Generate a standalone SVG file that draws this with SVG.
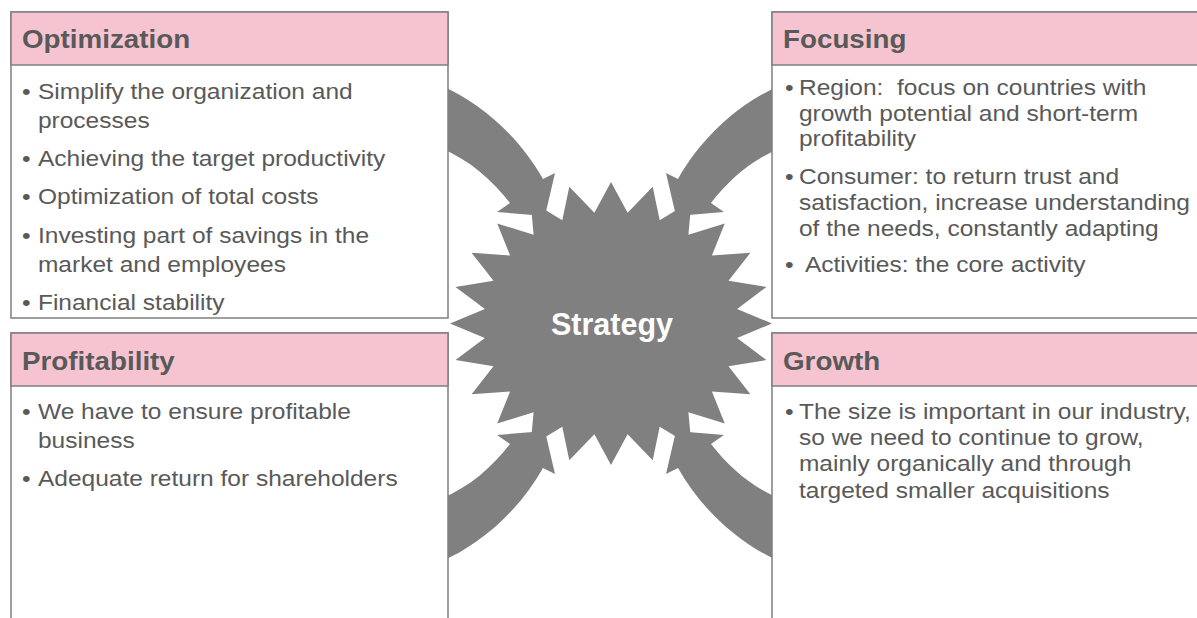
<svg xmlns="http://www.w3.org/2000/svg" width="1197" height="618" viewBox="0 0 1197 618">
<defs>
<style>
.box{fill:#ffffff;stroke:#7f7f7f;stroke-width:1.5}
.hdr{fill:#f6c4d0;stroke:#7f7f7f;stroke-width:1.5}
.ht{font-family:"Liberation Sans",Arial,sans-serif;font-weight:bold;font-size:25.5px;fill:#595959}
.bt{font-family:"Liberation Sans",Arial,sans-serif;font-size:22px;fill:#595959;white-space:pre}
.arr{fill:#808080}
.star{fill:#808080}
.st{font-family:"Liberation Sans",Arial,sans-serif;font-weight:bold;font-size:30.5px;fill:#ffffff}
</style>
<path id="arrowTL" class="arr" d="M 440,85 C 482,103 520,138 543,179 L 555,173 L 545,216 L 497,212 L 510,203 C 492,180 470,160 440,148 Z"/>
</defs>
<rect width="1197" height="618" fill="#ffffff"/>
<g id="connectors">
<use href="#arrowTL"/>
<use href="#arrowTL" transform="translate(1221,0) scale(-1,1)"/>
<use href="#arrowTL" transform="translate(0,647) scale(1,-1)"/>
<use href="#arrowTL" transform="translate(1221,647) scale(-1,-1)"/>
</g>
<g id="node-strategy">
<polygon class="star" points="611,182 627.6,212.7 652.7,186.8 659.7,220.2 691.5,201 688.4,234.8 724.8,223.4 711.9,255.4 750.4,252.8 728.5,280.7 766.5,286.9 737.1,308.9 772,323.5 737.1,338.1 766.5,360.1 728.5,366.3 750.4,394.3 711.9,391.6 724.8,423.6 688.4,412.2 691.5,446 659.7,426.8 652.7,460.2 627.6,434.3 611,465 594.4,434.3 569.3,460.2 562.3,426.8 530.5,446 533.6,412.2 497.2,423.6 510.1,391.6 471.6,394.3 493.5,366.3 455.5,360.1 484.9,338.1 450,323.5 484.9,308.9 455.5,286.9 493.5,280.7 471.6,252.8 510.1,255.4 497.2,223.4 533.6,234.8 530.5,201 562.3,220.2 569.3,186.8 594.4,212.7"/>
<text class="st" x="612" y="335" text-anchor="middle">Strategy</text>
</g>
<g id="node-optimization">
<rect class="box" x="11" y="12" width="437" height="306"/>
<rect class="hdr" x="11" y="12" width="437" height="53"/>
<text class="ht" x="0" y="48" transform="translate(22,0) scale(1.09,1)">Optimization</text>
<g transform="translate(22,0) scale(1.115,1)">
<text class="bt" x="0" y="99">•</text><text class="bt" x="14.3" y="99">Simplify the organization and</text>
<text class="bt" x="14.3" y="128">processes</text>
<text class="bt" x="0" y="166.5">•</text><text class="bt" x="14.3" y="166.5">Achieving the target productivity</text>
<text class="bt" x="0" y="204.5">•</text><text class="bt" x="14.3" y="204.5">Optimization of total costs</text>
<text class="bt" x="0" y="243">•</text><text class="bt" x="14.3" y="243">Investing part of savings in the</text>
<text class="bt" x="14.3" y="272">market and employees</text>
<text class="bt" x="0" y="310">•</text><text class="bt" x="14.3" y="310">Financial stability</text>
</g>
</g>
<g id="node-focusing">
<rect class="box" x="772" y="12" width="440" height="306"/>
<rect class="hdr" x="772" y="12" width="440" height="53"/>
<text class="ht" x="0" y="48" transform="translate(783,0) scale(1.09,1)">Focusing</text>
<g transform="translate(785,0) scale(1.115,1)">
<text class="bt" x="0" y="95.5">•</text><text class="bt" x="12.5" y="95.5" xml:space="preserve">Region:  focus on countries with</text>
<text class="bt" x="12.5" y="121.5">growth potential and short-term</text>
<text class="bt" x="12.5" y="146.5">profitability</text>
<text class="bt" x="0" y="184">•</text><text class="bt" x="12.5" y="184">Consumer: to return trust and</text>
<text class="bt" x="12.5" y="210.5">satisfaction, increase understanding</text>
<text class="bt" x="12.5" y="236.5">of the needs, constantly adapting</text>
<text class="bt" x="0" y="272.5">•</text><text class="bt" x="17.9" y="272.5">Activities: the core activity</text>
</g>
</g>
<g id="node-profitability">
<rect class="box" x="11" y="333" width="437" height="300"/>
<rect class="hdr" x="11" y="333" width="437" height="53"/>
<text class="ht" x="0" y="370" transform="translate(22,0) scale(1.09,1)">Profitability</text>
<g transform="translate(22,0) scale(1.115,1)">
<text class="bt" x="0" y="419">•</text><text class="bt" x="14.3" y="419">We have to ensure profitable</text>
<text class="bt" x="14.3" y="448">business</text>
<text class="bt" x="0" y="486">•</text><text class="bt" x="14.3" y="486">Adequate return for shareholders</text>
</g>
</g>
<g id="node-growth">
<rect class="box" x="772" y="333" width="440" height="300"/>
<rect class="hdr" x="772" y="333" width="440" height="53"/>
<text class="ht" x="0" y="370" transform="translate(783,0) scale(1.09,1)">Growth</text>
<g transform="translate(785,0) scale(1.115,1)">
<text class="bt" x="0" y="419">•</text><text class="bt" x="12.5" y="419">The size is important in our industry,</text>
<text class="bt" x="12.5" y="445">so we need to continue to grow,</text>
<text class="bt" x="12.5" y="471.5">mainly organically and through</text>
<text class="bt" x="12.5" y="498">targeted smaller acquisitions</text>
</g>
</g>
</svg>
